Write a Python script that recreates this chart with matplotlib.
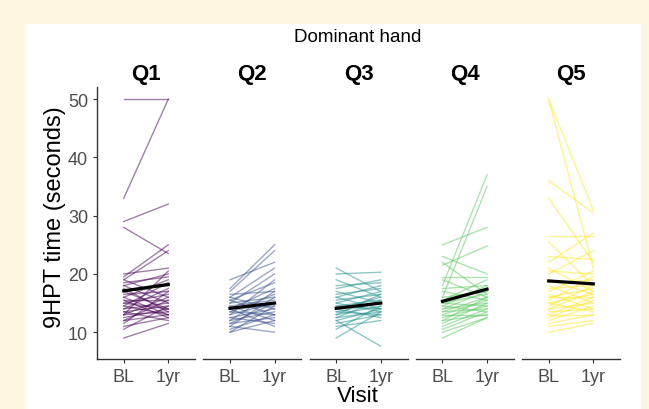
import matplotlib
matplotlib.use("Agg")
import matplotlib.pyplot as plt
from matplotlib.patches import Rectangle

plt.rcParams["font.family"] = ["Liberation Sans", "DejaVu Sans"]

# each facet: one line per patient, baseline -> 1 year
panels = ["Q1", "Q2", "Q3", "Q4", "Q5"]
visits = ["BL", "1yr"]
colors = ["#440154", "#3b528b", "#21908c", "#5dc863", "#fde725"]

q1_bl = [50, 33, 29, 28, 20, 19.5, 19, 19, 18.5, 18, 18, 17.5, 17, 17, 16.5, 16, 16, 15.5, 15.5,
         15, 15, 14.5, 14.5, 14, 14, 13.5, 13.5, 13, 13, 13, 12.5, 12, 12, 11.5, 11, 10.5, 9]
q1_yr = [50, 50, 32, 23.5, 21, 25, 24, 16, 19.5, 15, 20, 13.5, 18, 14, 17, 19, 13, 15.5, 12.5,
         16.5, 14, 18.5, 13, 17.5, 15, 14.5, 12, 16, 13.5, 20.5, 14, 15.5, 13, 17, 12.5, 14.5, 11.5]

q2_bl = [19, 17.5, 17, 16.5, 16, 16, 15.5, 15.5, 15, 15, 14.5, 14.5, 14, 14, 14, 13.5, 13.5, 13,
         13, 12.5, 12.5, 12, 12, 11.5, 11.5, 11, 11, 10.5, 10, 10]
q2_yr = [22, 25, 24, 17, 21, 14, 18.5, 13, 16, 20, 15.5, 12, 17.5, 14.5, 11, 16.5, 13, 19,
         15, 14, 11.5, 17, 13.5, 15, 12.5, 16, 10, 13, 14.5, 12]

q3_bl = [21, 20, 19, 18, 17.5, 17, 16.5, 16, 16, 15.5, 15, 15, 14.5, 14.5, 14, 14, 13.5, 13.5,
         13, 13, 12.5, 12.5, 12, 12, 11.5, 11, 10.5, 9]
q3_yr = [17, 20.3, 16, 18.5, 19, 15, 17.5, 14, 18, 16.5, 13.5, 17, 15.5, 14, 16, 12.5, 15, 13,
         14.5, 16.5, 13.5, 15.5, 7.6, 14, 13, 12, 14.5, 13.5]

q4_bl = [25, 23, 22, 21.5, 19.5, 19, 18, 17.5, 17, 16, 16, 15.5, 15, 15, 14.5, 14.5, 14, 14,
         13.5, 13.5, 13, 13, 12.5, 12, 12, 11.5, 11, 10.5, 10, 9]
q4_yr = [28, 20, 16.5, 24.8, 19.5, 16, 37, 18, 15.5, 35, 17, 19, 14.5, 16.5, 18, 13.5, 17, 15,
         14, 16, 15.5, 13, 14.5, 16, 13, 15, 14, 13.5, 12.5, 12.5]

q5_bl = [50, 50, 36, 33, 26.5, 25.5, 23, 22, 21, 20.5, 20, 19, 18.5, 18, 17.5, 17, 16.5, 16, 16,
         15.5, 15, 15, 14.5, 14, 14, 13.5, 13, 13, 12.5, 12, 11.5, 11, 10]
q5_yr = [31, 21, 30.5, 22, 26.5, 18, 22.5, 27, 17, 20, 24, 16.5, 19, 15, 18, 20.5, 14, 17.5, 16,
         19.5, 13.5, 16.5, 18, 15, 17, 14, 16, 13, 15.5, 14.5, 13, 12, 11.5]

mean_bl = [17.1, 14.1, 14.1, 15.3, 18.8]
mean_yr = [18.2, 15.0, 15.0, 17.4, 18.3]

data = [(q1_bl, q1_yr), (q2_bl, q2_yr), (q3_bl, q3_yr), (q4_bl, q4_yr), (q5_bl, q5_yr)]

W, H = 649, 410
fig = plt.figure(figsize=(W / 100, H / 100), dpi=100, facecolor="#fdf7e1")
# white card on the cream background
fig.patches.append(Rectangle((25 / W, 0), 616 / W, 1 - 25 / H, transform=fig.transFigure,
                             facecolor="white", edgecolor="none", zorder=-10))

ink = "#333333"
for i, (name, (bl, yr)) in enumerate(zip(panels, data)):
    left = 97 + i * 106.25
    ax = fig.add_axes([left / W, 1 - 360 / H, 98 / W, (360 - 88) / H])
    ax.set_facecolor("none")
    for a, b in zip(bl, yr):
        ax.plot([0, 1], [a, b], color=colors[i], alpha=0.5, lw=1.0)
    ax.plot([0, 1], [mean_bl[i], mean_yr[i]], color="black", lw=2.3, zorder=5)
    ax.set_xlim(-0.6, 1.6)
    ax.set_ylim(5.4, 52.1)
    ax.set_xticks([0, 1])
    ax.set_xticklabels(visits)
    ax.set_title(name, fontsize=16, fontweight="bold", pad=6)
    for s in ["top", "right", "left"]:
        ax.spines[s].set_visible(False)
    ax.spines["bottom"].set_color(ink)
    ax.spines["bottom"].set_linewidth(1.0)
    ax.tick_params(axis="x", colors=ink, labelcolor="#4d4d4d", labelsize=13, length=3, width=0.8)
    if i == 0:
        ax.spines["left"].set_visible(True)
        ax.spines["left"].set_color(ink)
        ax.spines["left"].set_linewidth(1.0)
        ax.set_yticks([10, 20, 30, 40, 50])
        ax.tick_params(axis="y", colors=ink, labelcolor="#4d4d4d", labelsize=13, length=3, width=0.8)
    else:
        ax.set_yticks([])

fig.text(358 / W, 1 - 38 / H, "Dominant hand", ha="center", va="center", fontsize=13.5)
fig.text(358 / W, 1 - 397 / H, "Visit", ha="center", va="center", fontsize=16)
fig.text(55 / W, 1 - 217 / H, "9HPT time (seconds)", ha="center", va="center",
         rotation=90, fontsize=17)

fig.savefig("out.png", dpi=100, facecolor=fig.get_facecolor())
